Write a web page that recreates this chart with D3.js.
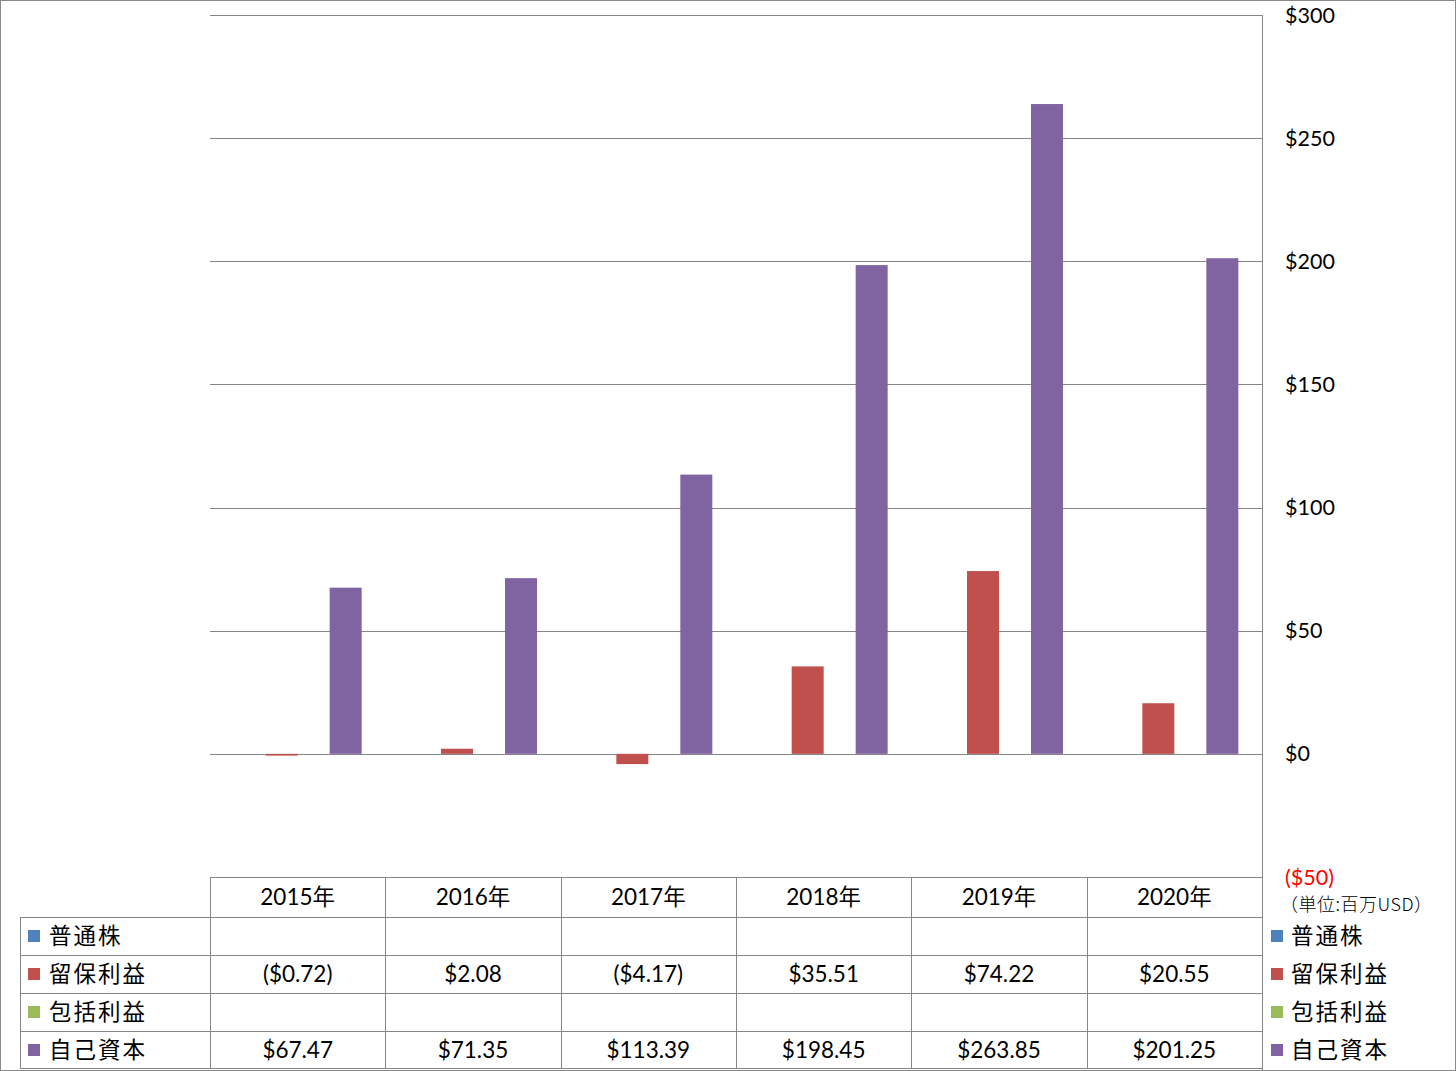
<!DOCTYPE html>
<html>
<head>
<meta charset="utf-8">
<script src="https://cdn.jsdelivr.net/npm/d3@7"></script>
<style>
  body { margin: 0; background: #fff; }
  text { font-family: Lato, "Noto Sans CJK JP", sans-serif; }
  .jp { font-family: "Noto Sans CJK JP", sans-serif; }
</style>
</head>
<body>
<div id="chart"></div>
<script>
var categories = ["2015年", "2016年", "2017年", "2018年", "2019年", "2020年"];
var seriesNames = ["普通株", "留保利益", "包括利益", "自己資本"];
var commonStock = [null, null, null, null, null, null];
var retained = [-0.72, 2.08, -4.17, 35.51, 74.22, 20.55];
var comprehensive = [null, null, null, null, null, null];
var equity = [67.47, 71.35, 113.39, 198.45, 263.85, 201.25];
var yTicks = [-50, 0, 50, 100, 150, 200, 250, 300];
var colors = ["#4F81BD", "#C0504D", "#9BBB59", "#8064A2"];

var seriesValues = [commonStock, retained, comprehensive, equity];

var W = 1456, H = 1071;
var plot = {left: 210, right: 1262, top: 15, bottom: 877};
var rowH = 38, headerH = 40;
var tableTop = plot.bottom;

var svg = d3.select("#chart").append("svg")
  .attr("width", W).attr("height", H);

svg.append("rect")
  .attr("x", 0.5).attr("y", 0.5)
  .attr("width", W - 1).attr("height", H - 1)
  .attr("fill", "#fff").attr("stroke", "#898989");

var x = d3.scaleBand()
  .domain(categories)
  .range([plot.left, plot.right])
  .padding(0);

var xs = d3.scaleBand()
  .domain(seriesNames)
  .range([0, x.bandwidth()])
  .paddingInner(0)
  .paddingOuter(0.74);

var y = d3.scaleLinear()
  .domain([-50, 300])
  .range([plot.bottom, plot.top]);

function fmt(v) {
  if (v == null) return "";
  var s = "$" + Math.abs(v).toFixed(2);
  return v < 0 ? "(" + s + ")" : s;
}
function fmtTick(v) {
  return v < 0 ? "($" + Math.abs(v) + ")" : "$" + v;
}

// gridlines
svg.append("g").selectAll("line")
  .data(yTicks.filter(function(d) { return d > -50; }))
  .enter().append("line")
  .attr("x1", plot.left).attr("x2", plot.right)
  .attr("y1", function(d) { return Math.round(y(d)) + 0.5; })
  .attr("y2", function(d) { return Math.round(y(d)) + 0.5; })
  .attr("stroke", "#868686");

// right axis labels
svg.append("g").selectAll("text")
  .data(yTicks)
  .enter().append("text")
  .attr("x", 1285)
  .attr("y", function(d) { return y(d); })
  .attr("dy", "0.35em")
  .attr("font-size", 21.5)
  .attr("fill", function(d) { return d < 0 ? "#FF0000" : "#000"; })
  .text(fmtTick);

// bars
var groups = svg.append("g").selectAll("g")
  .data(seriesNames)
  .enter().append("g")
  .attr("fill", function(d, i) { return colors[i]; });

groups.selectAll("rect")
  .data(function(name, i) {
    return seriesValues[i].map(function(v, j) { return {name: name, cat: categories[j], v: v}; })
      .filter(function(d) { return d.v != null; });
  })
  .enter().append("rect")
  .attr("x", function(d) { return x(d.cat) + xs(d.name); })
  .attr("width", xs.bandwidth())
  .attr("y", function(d) { return y(Math.max(0, d.v)); })
  .attr("height", function(d) { return Math.abs(y(d.v) - y(0)); });

// right border of plot area
svg.append("line")
  .attr("x1", plot.right + 0.5).attr("x2", plot.right + 0.5)
  .attr("y1", plot.top).attr("y2", H - 1)
  .attr("stroke", "#868686");

// data table
var table = svg.append("g").attr("stroke", "#868686").attr("fill", "none");
var rowsTop = tableTop + headerH;
var tableBottom = rowsTop + rowH * seriesNames.length;

table.append("line")
  .attr("x1", plot.left).attr("x2", plot.right)
  .attr("y1", tableTop + 0.5).attr("y2", tableTop + 0.5);
seriesNames.forEach(function(n, i) {
  var yy = Math.round(rowsTop + i * rowH) + 0.5;
  table.append("line")
    .attr("x1", 20).attr("x2", plot.right)
    .attr("y1", yy).attr("y2", yy);
});
table.append("line")
  .attr("x1", 20).attr("x2", plot.right)
  .attr("y1", tableBottom - 0.5).attr("y2", tableBottom - 0.5);
table.append("line")
  .attr("x1", 20.5).attr("x2", 20.5)
  .attr("y1", rowsTop).attr("y2", tableBottom);
categories.forEach(function(c) {
  var xx = Math.round(x(c)) + 0.5;
  table.append("line")
    .attr("x1", xx).attr("x2", xx)
    .attr("y1", tableTop).attr("y2", tableBottom);
});

svg.append("g").selectAll("text")
  .data(categories)
  .enter().append("text")
  .attr("x", function(d) { return x(d) + x.bandwidth() / 2; })
  .attr("y", tableTop + headerH / 2)
  .attr("dy", "0.35em")
  .attr("text-anchor", "middle")
  .attr("font-size", 22.5)
  .text(function(d) { return d; });

seriesNames.forEach(function(name, i) {
  var cy = rowsTop + i * rowH + rowH / 2;
  svg.append("rect")
    .attr("x", 28).attr("y", cy - 6)
    .attr("width", 12).attr("height", 12)
    .attr("fill", colors[i]);
  svg.append("text")
    .attr("class", "jp")
    .attr("x", 49).attr("y", cy)
    .attr("dy", "0.35em")
    .attr("font-size", 22.5)
    .attr("letter-spacing", 2)
    .text(name);
  svg.append("g").selectAll("text")
    .data(seriesValues[i])
    .enter().append("text")
    .attr("x", function(d, j) { return x(categories[j]) + x.bandwidth() / 2; })
    .attr("y", cy)
    .attr("dy", "0.35em")
    .attr("text-anchor", "middle")
    .attr("font-size", 22.5)
    .text(fmt);

  // legend on the right
  svg.append("rect")
    .attr("x", 1271).attr("y", cy - 6)
    .attr("width", 12).attr("height", 12)
    .attr("fill", colors[i]);
  svg.append("text")
    .attr("class", "jp")
    .attr("x", 1291).attr("y", cy)
    .attr("dy", "0.35em")
    .attr("font-size", 22.5)
    .attr("letter-spacing", 2)
    .text(name);
});

svg.append("text")
  .attr("class", "jp")
  .attr("x", 1280).attr("y", 905)
  .attr("dy", "0.35em")
  .attr("font-size", 18)
  .attr("font-weight", 300)
  .attr("textLength", 152)
  .attr("lengthAdjust", "spacing")
  .text("（単位:百万USD）");
</script>
</body>
</html>
